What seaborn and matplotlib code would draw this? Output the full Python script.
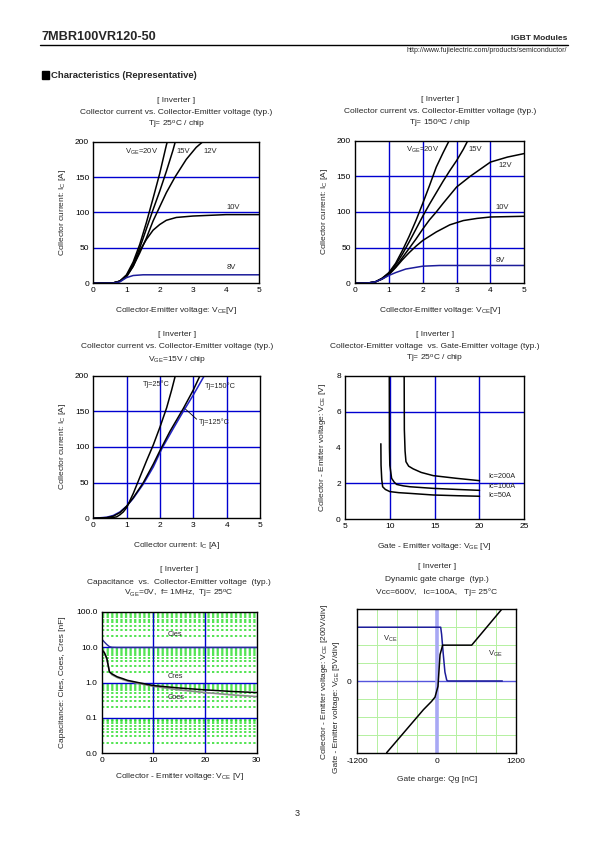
import matplotlib
matplotlib.use("Agg")
import numpy as np
import pandas as pd
import matplotlib.pyplot as plt
import seaborn as sns
from matplotlib.ticker import MultipleLocator, FixedLocator, NullFormatter, FixedFormatter, LogLocator
from matplotlib.patches import Rectangle

# ---------------- data ----------------
# Plot 1: Ic vs Vce, Tj=25C
p1_20_x = [0, 0.6, 0.8, 1.0, 1.2, 1.4, 1.6, 1.8, 2.0, 2.2, 2.23]
p1_20_y = [0, 0.5, 3, 12, 30, 55, 86, 120, 155, 195, 200]
p1_15_x = [0, 0.6, 0.8, 1.0, 1.2, 1.4, 1.6, 1.8, 2.0, 2.2, 2.4, 2.47]
p1_15_y = [0, 0.5, 3, 11, 27, 50, 77, 104, 130, 158, 188, 200]
p1_12_x = [0, 0.6, 0.8, 1.0, 1.2, 1.4, 1.6, 1.8, 2.0, 2.2, 2.46, 2.8, 3.1, 3.3]
p1_12_y = [0, 0.5, 3, 10, 24, 43, 64, 88, 108, 128, 150, 175, 192, 200]
p1_10_x = [0, 0.6, 0.8, 1.0, 1.2, 1.4, 1.6, 1.8, 2.0, 2.2, 2.5, 3.0, 3.5, 4.0, 5.0]
p1_10_y = [0, 0.5, 3, 9, 24, 46, 62, 75, 83, 89, 93, 95, 96, 97, 97]
p1_8_x = [0, 0.6, 0.8, 0.9, 1.0, 1.2, 1.5, 2.0, 3.0, 5.0]
p1_8_y = [0, 0.3, 2, 5, 8, 11, 12, 12, 12, 12]

# Plot 2: Ic vs Vce, Tj=150C
p2_20_x = [0, 0.4, 0.6, 0.8, 1.0, 1.2, 1.4, 1.6, 1.8, 2.0, 2.2, 2.4, 2.6, 2.78]
p2_20_y = [0, 0.5, 2, 7, 15, 28, 46, 66, 88, 112, 137, 163, 183, 200]
p2_15_x = [0, 0.4, 0.6, 0.8, 1.0, 1.2, 1.4, 1.6, 1.8, 2.0, 2.2, 2.4, 2.6, 2.8, 3.0, 3.2, 3.33]
p2_15_y = [0, 0.5, 2, 7, 14, 26, 41, 58, 76, 94, 111, 127, 143, 158, 172, 188, 200]
p2_12_x = [0, 0.4, 0.6, 0.8, 1.0, 1.2, 1.4, 1.6, 1.8, 2.0, 2.2, 2.4, 2.6, 3.0, 3.4, 4.0, 4.5, 5.0]
p2_12_y = [0, 0.5, 2, 6, 13, 23, 36, 49, 62, 76, 89, 100, 112, 135, 150, 170, 177, 182]
p2_10_x = [0, 0.4, 0.6, 0.8, 1.0, 1.2, 1.4, 1.6, 1.8, 2.0, 2.4, 2.8, 3.2, 3.6, 4.0, 5.0]
p2_10_y = [0, 0.5, 2, 6, 12, 22, 33, 43, 52, 60, 72, 82, 88, 91, 93, 94]
p2_8_x = [0, 0.4, 0.6, 0.8, 1.0, 1.2, 1.5, 2.0, 2.5, 3.0, 5.0]
p2_8_y = [0, 0.5, 2, 6, 11, 15, 20, 24, 25, 25, 25]

# Plot 3: Ic vs Vce, VGE=15V
p3_25_x = [0, 0.5, 0.7, 0.8, 0.9, 1.0, 1.2, 1.4, 1.6, 1.8, 2.0, 2.2, 2.35, 2.46]
p3_25_y = [0, 0.5, 2, 5, 9, 15, 35, 58, 81, 103, 128, 155, 180, 200]
p3_125_x = [0, 0.4, 0.6, 0.8, 1.0, 1.2, 1.5, 1.8, 2.0, 2.3, 2.7, 3.0, 3.2]
p3_125_y = [0, 1, 3, 8, 17, 29, 50, 76, 95, 122, 154, 180, 200]
p3_150_x = [0, 0.4, 0.6, 0.8, 1.0, 1.2, 1.5, 1.8, 2.06, 2.4, 2.7, 3.0, 3.33]
p3_150_y = [0, 1.5, 4, 9, 17, 28, 48, 72, 98, 126, 150, 173, 200]

# Plot 4: Vce vs Vge
p4_50_x = [9.0, 9.02, 9.1, 9.2, 9.5, 10, 11, 12.25, 14.85, 17.5, 20]
p4_50_y = [4.2, 3.0, 2.2, 1.8, 1.65, 1.53, 1.47, 1.43, 1.34, 1.3, 1.27]
p4_100_x = [9.94, 9.96, 10.0, 10.2, 10.5, 10.76, 11.5, 12.25, 14.85, 17.5, 20]
p4_100_y = [8, 4, 3.0, 2.27, 2.05, 1.93, 1.85, 1.8, 1.71, 1.65, 1.6]
p4_200_x = [11.6, 11.62, 11.7, 11.8, 12.1, 12.6, 13.5, 14.85, 17.45, 20]
p4_200_y = [8, 5, 3.8, 3.2, 2.95, 2.8, 2.6, 2.42, 2.27, 2.14]

# Plot 5: capacitance
p5_vce = [0, 0.5, 1.0, 1.5, 2, 3, 4, 5, 7, 10, 15, 20, 25, 30]
p5_cies = [17, 14, 11.8, 10.3, 9.9, 9.8, 9.8, 9.8, 9.8, 9.8, 9.8, 9.8, 9.8, 9.8]
p5_cres = [8.5, 7, 4.8, 2.0, 1.75, 1.45, 1.3, 1.15, 1.0, 0.82, 0.7, 0.62, 0.56, 0.52]
p5_coes = [8.5, 7, 4.5, 2.0, 1.65, 1.38, 1.22, 1.1, 0.95, 0.78, 0.62, 0.52, 0.45, 0.40]

# Plot 6: gate charge (y in divisions)
p6_vge_q = [-756, -200, -80, -25, 20, 51, 91, 530, 984]
p6_vge_d = [-4, -1.6, -1.15, -0.9, -0.3, 1.47, 2.0, 2.0, 4.0]
p6_vce_q = [-1200, 61, 75, 100, 125, 152, 170, 993]
p6_vce_d = [3, 3, 2.6, 1.5, 0.5, 0.05, 0, 0]

# ---------------- style ----------------
sns.set_theme(style="white")
plt.rcParams["font.family"] = ["Liberation Sans", "DejaVu Sans"]
plt.rcParams["mathtext.default"] = "regular"

W, H = 595, 842
fig = plt.figure(figsize=(W / 100, H / 100), dpi=100)
fig.patch.set_facecolor("white")

BLUE = "#0000d0"
NAVY = "#1c1c9a"
FS = 6.0


def fx(x):
    return x / W


def fy(y):
    return 1 - y / H


def ftext(x, y, s, **kw):
    kw.setdefault("fontsize", FS)
    fig.text(fx(x), fy(y), s, **kw)


def add_ax(box):
    l, t, r, b = box
    ax = fig.add_axes([fx(l), fy(b), (r - l) / W, (b - t) / H])
    ax.set_facecolor("white")
    for s in ax.spines.values():
        s.set_color("black")
        s.set_linewidth(1.0)
        s.set_zorder(10)
    ax.tick_params(direction="in", length=3, width=0.6, labelsize=FS, colors="black", pad=3)
    ax.tick_params(which="minor", direction="in", length=1.6, width=0.5, colors="black")
    ax.set_xlabel("")
    ax.set_ylabel("")
    return ax


def titles(box, lines, offs=(41.5, 29, 16.5)):
    l, t, r, b = box
    cx = (l + r) / 2
    for s, o in zip(lines, offs):
        ftext(cx, t - o, s, ha="center", va="center")


def labels(box, xl, yl, xoff=27, yoff=31):
    l, t, r, b = box
    ftext((l + r) / 2, b + xoff, xl, ha="center", va="center")
    if yl is not None:
        ftext(l - yoff, (t + b) / 2, yl, ha="center", va="center", rotation=90)


def curve(ax, x, y, color="black", lw=1.1, z=5):
    sns.lineplot(x=x, y=y, ax=ax, color=color, lw=lw, sort=False, estimator=None,
                 legend=False, zorder=z)


# ---------------- header ----------------
ftext(41, 37, "7MBR100VR120-50", fontsize=9.2, fontweight="bold", ha="left", va="center")
ftext(567, 38, "IGBT Modules", fontsize=6, fontweight="bold", ha="right", va="center")
fig.add_artist(plt.Line2D([fx(40), fx(568)], [fy(44.5), fy(44.5)], color="black", lw=1.0))
ftext(567, 50.5, "http://www.fujielectric.com/products/semiconductor/", fontsize=5.0,
      ha="right", va="center")
fig.add_artist(Rectangle((fx(41.5), fy(79)), 7 / W, 8 / H, color="black", transform=fig.transFigure))
ftext(51, 75, "Characteristics (Representative)", fontsize=6.8, fontweight="bold", ha="left", va="center")
ftext(297, 814, "3", fontsize=6.5, ha="center", va="center")

# ---------------- plot 1 ----------------
B1 = (93.3, 141.7, 259.3, 283.3)
ax = add_ax(B1)
for v in [50, 100, 150]:
    ax.axhline(v, color=BLUE, lw=1.0, zorder=2)
curve(ax, p1_20_x, p1_20_y)
curve(ax, p1_15_x, p1_15_y)
curve(ax, p1_12_x, p1_12_y)
curve(ax, p1_10_x, p1_10_y)
curve(ax, p1_8_x, p1_8_y, color=NAVY)
ax.set_xlim(0, 5)
ax.set_ylim(0, 200)
ax.xaxis.set_major_locator(MultipleLocator(1))
ax.yaxis.set_major_locator(MultipleLocator(50))
ax.yaxis.set_minor_locator(MultipleLocator(10))
ax.set_xlabel("")
ax.set_ylabel("")
ax.text(1.46, 186, "V$_{GE}$=20V", fontsize=5.5, ha="center", va="center")
ax.text(2.71, 186, "15V", fontsize=5.5, ha="center", va="center")
ax.text(3.51, 186, "12V", fontsize=5.5, ha="center", va="center")
ax.text(4.22, 107, "10V", fontsize=5.5, ha="center", va="center")
ax.text(4.17, 23, "8V", fontsize=5.5, ha="center", va="center")
titles(B1, ["[ Inverter ]", "Collector current vs. Collector-Emitter voltage (typ.)",
            "Tj= 25$^{o}$C / chip"])
labels(B1, "Collector-Emitter voltage: V$_{CE}$[V]", "Collector current: I$_{C}$ [A]")

# ---------------- plot 2 ----------------
B2 = (355, 140.7, 524.3, 283.3)
ax = add_ax(B2)
for v in [50, 100, 150]:
    ax.axhline(v, color=BLUE, lw=1.0, zorder=2)
for v in [1, 2, 3, 4]:
    ax.axvline(v, color=BLUE, lw=1.0, zorder=2)
curve(ax, p2_20_x, p2_20_y)
curve(ax, p2_15_x, p2_15_y)
curve(ax, p2_12_x, p2_12_y)
curve(ax, p2_10_x, p2_10_y)
curve(ax, p2_8_x, p2_8_y, color=NAVY)
ax.set_xlim(0, 5)
ax.set_ylim(0, 200)
ax.xaxis.set_major_locator(MultipleLocator(1))
ax.yaxis.set_major_locator(MultipleLocator(50))
ax.yaxis.set_minor_locator(MultipleLocator(10))
ax.set_xlabel("")
ax.set_ylabel("")
ax.text(2.0, 187, "V$_{GE}$=20V", fontsize=5.5, ha="center", va="center")
ax.text(3.55, 187, "15V", fontsize=5.5, ha="center", va="center")
ax.text(4.45, 165, "12V", fontsize=5.5, ha="center", va="center")
ax.text(4.35, 107, "10V", fontsize=5.5, ha="center", va="center")
ax.text(4.3, 32, "8V", fontsize=5.5, ha="center", va="center")
titles(B2, ["[ Inverter ]", "Collector current vs. Collector-Emitter voltage (typ.)",
            "Tj= 150$^{o}$C / chip"])
labels(B2, "Collector-Emitter voltage: V$_{CE}$[V]", "Collector current: I$_{C}$ [A]")

# ---------------- plot 3 ----------------
B3 = (93.3, 375.7, 260, 518.3)
ax = add_ax(B3)
for v in [50, 100, 150]:
    ax.axhline(v, color=BLUE, lw=1.0, zorder=2)
for v in [1, 2, 3, 4]:
    ax.axvline(v, color=BLUE, lw=1.0, zorder=2)
curve(ax, p3_150_x, p3_150_y, color="#2222c8")
curve(ax, p3_125_x, p3_125_y)
curve(ax, p3_25_x, p3_25_y)
ax.set_xlim(0, 5)
ax.set_ylim(0, 200)
ax.xaxis.set_major_locator(MultipleLocator(1))
ax.yaxis.set_major_locator(MultipleLocator(50))
ax.yaxis.set_minor_locator(MultipleLocator(10))
ax.set_xlabel("")
ax.set_ylabel("")
ax.text(1.9, 188, "Tj=25°C", fontsize=5.3, ha="center", va="center")
ax.text(3.82, 186, "Tj=150°C", fontsize=5.3, ha="center", va="center")
ax.text(3.62, 135, "Tj=125°C", fontsize=5.3, ha="center", va="center")
ax.plot([3.1, 2.72], [139, 155], color="black", lw=0.6)
titles(B3, ["[ Inverter ]", "Collector current vs. Collector-Emitter voltage (typ.)",
            "V$_{GE}$=15V / chip"])
labels(B3, "Collector current: I$_{C}$ [A]", "Collector current: I$_{C}$ [A]")

# ---------------- plot 4 ----------------
B4 = (345, 375.7, 524.3, 519)
ax = add_ax(B4)
for v in [2, 6]:
    ax.axhline(v, color=BLUE, lw=1.0, zorder=2)
for v in [10, 15, 20]:
    ax.axvline(v, color=BLUE, lw=1.0, zorder=2)
curve(ax, p4_50_x, p4_50_y)
curve(ax, p4_100_x, p4_100_y)
curve(ax, p4_200_x, p4_200_y)
ax.set_xlim(5, 25)
ax.set_ylim(0, 8)
ax.xaxis.set_major_locator(MultipleLocator(5))
ax.xaxis.set_minor_locator(MultipleLocator(1))
ax.yaxis.set_major_locator(MultipleLocator(2))
ax.yaxis.set_minor_locator(MultipleLocator(0.5))
ax.set_xlabel("")
ax.set_ylabel("")
ax.text(21.0, 2.36, "Ic=200A", fontsize=5.3, ha="left", va="center")
ax.text(21.0, 1.8, "Ic=100A", fontsize=5.3, ha="left", va="center")
ax.text(21.0, 1.3, "Ic=50A", fontsize=5.3, ha="left", va="center")
titles(B4, ["[ Inverter ]", "Collector-Emitter voltage  vs. Gate-Emitter voltage (typ.)",
            "Tj= 25$^{o}$C / chip"])
labels(B4, "Gate - Emitter voltage: V$_{GE}$ [V]", "Collector - Emitter voltage: V$_{CE}$ [V]", yoff=22)

# ---------------- plot 5 ----------------
B5 = (101.7, 611.7, 256.7, 753.3)
ax = add_ax(B5)
ax.set_yscale("log")
ax.set_xlim(0, 30)
ax.set_ylim(0.01, 100)
ax.yaxis.set_major_locator(FixedLocator([0.01, 0.1, 1, 10, 100]))
ax.yaxis.set_major_formatter(FixedFormatter(["0.0", "0.1", "1.0", "10.0", "100.0"]))
ax.yaxis.set_minor_locator(LogLocator(base=10, subs=np.arange(2, 10)))
ax.yaxis.set_minor_formatter(NullFormatter())
ax.grid(which="minor", axis="y", color="#22dd22", linestyle=(0, (1.5, 1.5)), lw=1.1, zorder=1)
for v in [0.1, 1, 10]:
    ax.axhline(v, color=BLUE, lw=1.0, zorder=2)
for v in [10, 20]:
    ax.axvline(v, color=BLUE, lw=1.0, zorder=2)
curve(ax, p5_vce, p5_cies, color="#2a2a9a", lw=1.0)
curve(ax, p5_vce, p5_coes, color="#8a8a8a", lw=1.2)
curve(ax, p5_vce, p5_cres, color="black", lw=1.1)
ax.xaxis.set_major_locator(MultipleLocator(10))
ax.xaxis.set_minor_locator(MultipleLocator(2))
ax.set_xlabel("")
ax.set_ylabel("")
ax.text(14.2, 22, "Cies", fontsize=5.3, ha="center", va="center")
ax.text(14.2, 1.45, "Cres", fontsize=5.3, ha="center", va="center")
ax.text(14.5, 0.38, "Coes", fontsize=5.3, ha="center", va="center")
titles(B5, ["[ Inverter ]", "Capacitance  vs.  Collector-Emitter voltage  (typ.)",
            "V$_{GE}$=0V,  f= 1MHz,  Tj= 25$^{o}$C"], offs=(42.4, 29.4, 17.4))
labels(B5, "Collector - Emitter voltage: V$_{CE}$ [V]", "Capacitance: Cies, Coes, Cres [nF]",
       xoff=23, yoff=39)

# ---------------- plot 6 ----------------
B6 = (357.3, 609.3, 516, 752.7)
ax = add_ax(B6)
ax.set_xlim(-1200, 1200)
ax.set_ylim(-4, 4)
ax.xaxis.set_major_locator(FixedLocator(list(range(-1200, 1201, 300))))
ax.xaxis.set_major_formatter(FixedFormatter(["-1200", "", "", "", "0", "", "", "", "1200"]))
ax.yaxis.set_major_locator(FixedLocator(list(range(-4, 5))))
ax.yaxis.set_major_formatter(FixedFormatter(["", "", "", "", "0", "", "", "", ""]))
ax.grid(which="major", color="#b4f0a0", lw=0.7, zorder=1)
ax.tick_params(length=0, pad=4)
ax.axhline(0, color="#5555dd", lw=1.0, zorder=2)
ax.axvline(0, color="#a8a8f4", lw=2.6, zorder=2)
curve(ax, p6_vce_q, p6_vce_d, color=NAVY, lw=1.1)
curve(ax, p6_vge_q, p6_vge_d, color="black", lw=1.1)
ax.set_xlabel("")
ax.set_ylabel("")
ax.text(-705, 2.36, "V$_{CE}$", fontsize=5.5, ha="center", va="center")
ax.text(882, 1.5, "V$_{GE}$", fontsize=5.5, ha="center", va="center")
titles(B6, ["[ Inverter ]", "Dynamic gate charge  (typ.)",
            "Vcc=600V,   Ic=100A,   Tj= 25°C"], offs=(42.4, 29.4, 17.4))
labels(B6, "Gate charge: Qg [nC]", None, xoff=27)
ftext(325, 682, "Collector - Emitter voltage: V$_{CE}$ [200V/div]", ha="center", va="center", rotation=90)
ftext(337, 731, "Gate - Emitter voltage:", ha="center", va="center", rotation=90)
ftext(337, 664, "V$_{GE}$ [5V/div]", ha="center", va="center", rotation=90)

fig.savefig("out.png", dpi=100, facecolor="white")
